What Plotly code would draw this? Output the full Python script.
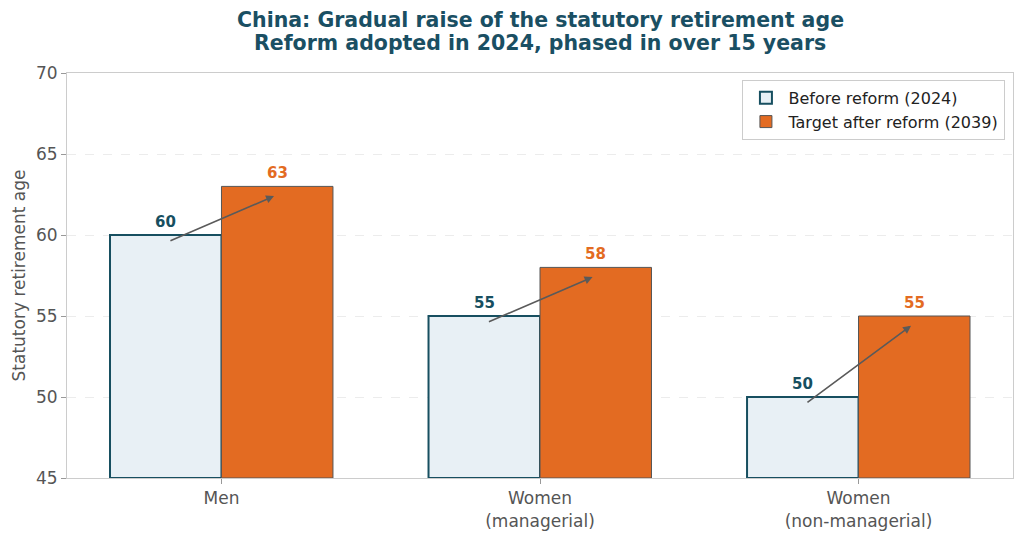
import plotly.graph_objects as go

categories = ["Men", "Women<br>(managerial)", "Women<br>(non-managerial)"]
before = [60, 55, 50]
after = [63, 58, 55]
series_names = ["Before reform (2024)", "Target after reform (2039)"]
title_lines = ["China: Gradual raise of the statutory retirement age",
               "Reform adopted in 2024, phased in over 15 years"]

BLUE_EDGE = "#174f60"
BLUE_FILL = "#e8f0f5"
ORANGE = "#e36b22"
TXT = "#555555"
TITLE_C = "#1a4f63"

x = list(range(len(categories)))
W = 0.35

fig = go.Figure()
fig.add_trace(go.Bar(x=x, y=[v - 45 for v in before], base=45, name=series_names[0],
                     width=W, offset=-W, marker=dict(color=BLUE_FILL, line=dict(color=BLUE_EDGE, width=2))))
fig.add_trace(go.Bar(x=x, y=[v - 45 for v in after], base=45, name=series_names[1],
                     width=W, offset=0, marker=dict(color=ORANGE, line=dict(color="#555555", width=1))))

ann = []
for i in x:
    ann.append(dict(x=i - W / 2, y=before[i] + 0.15, text=f"<b>{before[i]}</b>", showarrow=False,
                    yanchor="bottom", font=dict(size=15, color=BLUE_EDGE)))
    ann.append(dict(x=i + W / 2, y=after[i] + 0.15, text=f"<b>{after[i]}</b>", showarrow=False,
                    yanchor="bottom", font=dict(size=15, color=ORANGE)))
    ann.append(dict(x=i + 0.165, y=after[i] - 0.6, ax=i - 0.165, ay=before[i] - 0.4,
                    xref="x", yref="y", axref="x", ayref="y", text="", showarrow=True,
                    arrowhead=2, arrowsize=1, arrowwidth=1.6, arrowcolor="#5a5a5a"))

# title lines (plot area: top at 73 px, height 405 px)
for k, line in enumerate(title_lines):
    ycen = [20, 43][k]
    ann.append(dict(xref="paper", yref="paper", x=0.5, y=1 + (73 - ycen) / 405, xanchor="center",
                    yanchor="middle", showarrow=False, text=f"<b>{line}</b>",
                    font=dict(size=20.5, color=TITLE_C)))

fig.update_layout(
    width=1024, height=539,
    margin=dict(l=67, r=11, t=73, b=61),
    plot_bgcolor="white", paper_bgcolor="white",
    font=dict(family="DejaVu Sans", size=17, color=TXT),
    barmode="group",
    legend=dict(x=0.992, y=0.983, xanchor="right", yanchor="top", bordercolor="#cccccc", borderwidth=1,
                bgcolor="rgba(255,255,255,0.9)", font=dict(size=16, color="#222222"),
                tracegroupgap=2, itemwidth=35),
    annotations=ann,
    showlegend=True,
)
fig.update_xaxes(range=[-0.485, 2.485], tickvals=x, ticktext=categories, showgrid=False,
                 showline=True, linecolor="#cccccc", mirror=True, ticks="outside", ticklen=5,
                 tickcolor="#999999", tickfont=dict(size=17, color=TXT), automargin=False)
fig.update_yaxes(range=[45, 70], tickvals=[45, 50, 55, 60, 65, 70], showgrid=True, gridcolor="#ececec",
                 griddash="dash", showline=True, linecolor="#cccccc", mirror=True, ticks="outside",
                 ticklen=5, tickcolor="#999999", zeroline=False, tickfont=dict(size=17, color=TXT),
                 automargin=False,
                 title=dict(text="Statutory retirement age", font=dict(size=17, color=TXT), standoff=6))

fig.write_html("out.html")
